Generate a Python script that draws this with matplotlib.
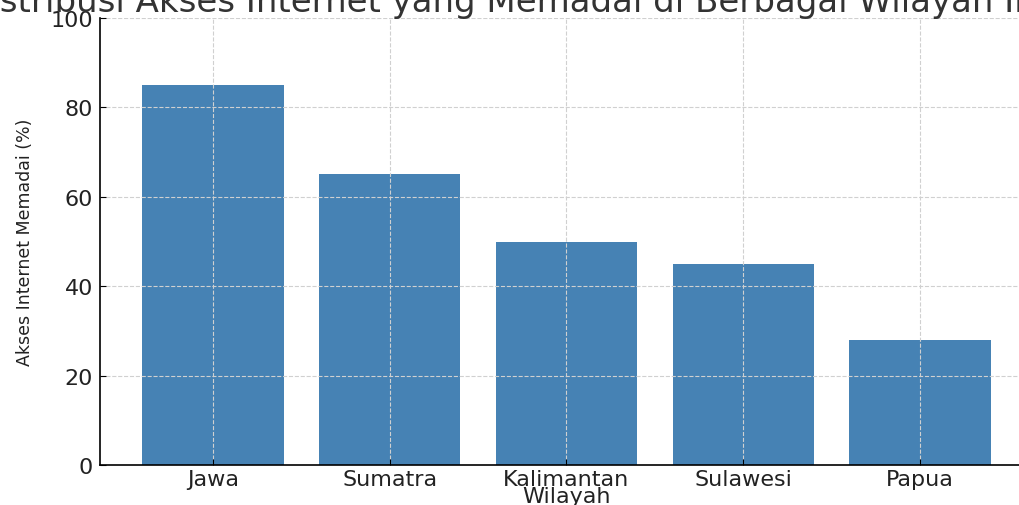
import matplotlib.pyplot as plt

# data
wilayah = ["Jawa", "Sumatra", "Kalimantan", "Sulawesi", "Papua"]
akses = [85, 65, 50, 45, 28]

fig = plt.figure(figsize=(10.2, 5.06), dpi=100)
# axes runs a little past the right edge, like the cropped original
ax = fig.add_axes([100 / 1020, 40 / 506, 933 / 1020, 447 / 506])

ax.bar(wilayah, akses, width=0.8, color="steelblue")
ax.set_ylim(0, 100)

ax.set_title("Distribusi Akses Internet yang Memadai di Berbagai Wilayah Indonesia",
             fontsize=24.5, color="#333333", pad=3)
ax.set_xlabel("Wilayah", fontsize=16, color="#222222", labelpad=-2)
ax.set_ylabel("Akses Internet Memadai (%)", fontsize=12.5, color="#222222",
              labelpad=12)

ax.tick_params(axis="both", direction="in", length=4, labelsize=16,
               labelcolor="#222222", pad=5)
ax.tick_params(axis="x", pad=3)
ax.grid(True, linestyle="--", color="#d0d0d0", linewidth=0.8)

ax.spines["top"].set_visible(False)
ax.spines["right"].set_visible(False)
ax.spines["left"].set_linewidth(1.2)
ax.spines["bottom"].set_linewidth(1.2)

plt.savefig("out.png", dpi=100)
plt.close()
